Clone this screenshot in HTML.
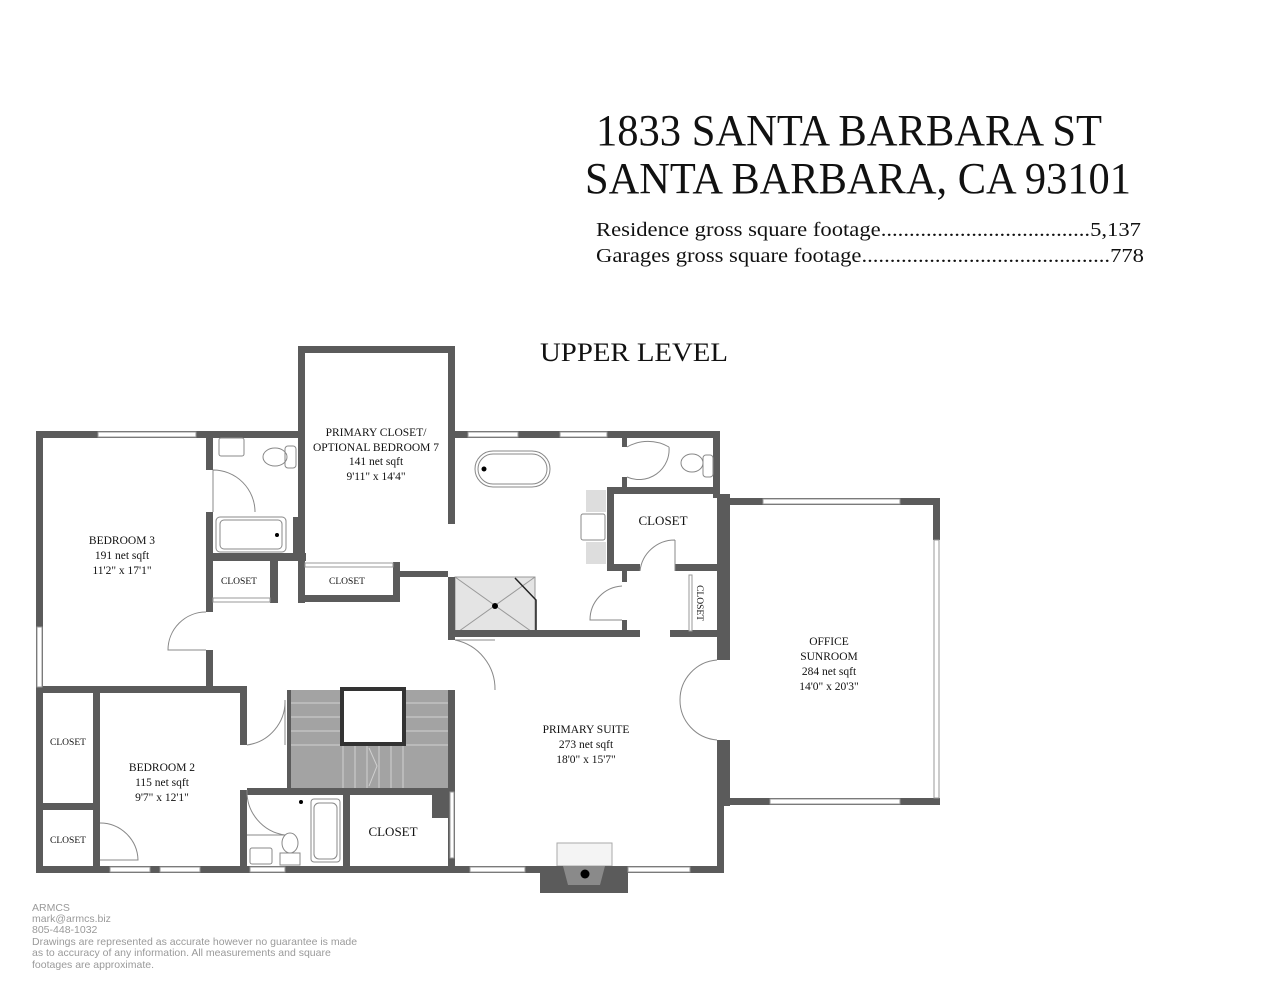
<!DOCTYPE html>
<html><head><meta charset="utf-8"><style>
html,body{margin:0;padding:0;background:#fff;}
svg{display:block;}
text{font-family:"Liberation Serif",serif;fill:#111;}
.w{fill:#5b5b5b;}
.win{fill:#fff;stroke:#999;stroke-width:1;}
.l{font-size:11.5px;text-anchor:middle;}
.s{font-size:9.5px;text-anchor:middle;}
.f{font-family:"Liberation Sans",sans-serif;fill:#9a9a9a;font-size:10.5px;}
.d{fill:none;stroke:#888;stroke-width:1;}
</style></head><body>
<svg width="1280" height="989" viewBox="0 0 1280 989" xmlns="http://www.w3.org/2000/svg">
<text x="596" y="145" font-size="44" textLength="506" lengthAdjust="spacingAndGlyphs">1833 SANTA BARBARA ST</text>
<text x="585" y="193" font-size="44" textLength="546" lengthAdjust="spacingAndGlyphs">SANTA BARBARA, CA 93101</text>
<text x="596" y="236" font-size="20.5" textLength="545" lengthAdjust="spacingAndGlyphs">Residence gross square footage.....................................5,137</text>
<text x="596" y="262" font-size="20.5" textLength="548" lengthAdjust="spacingAndGlyphs">Garages gross square footage............................................778</text>
<text x="540" y="361" font-size="26" textLength="188" lengthAdjust="spacingAndGlyphs">UPPER LEVEL</text>

<rect x="288" y="690" width="162" height="102" fill="#a3a3a3"/>
<g stroke="#d0d0d0" stroke-width="1">
<line x1="290" y1="703" x2="340" y2="703"/><line x1="290" y1="717" x2="340" y2="717"/><line x1="290" y1="731" x2="340" y2="731"/><line x1="290" y1="745" x2="448" y2="745"/>
<line x1="405" y1="703" x2="448" y2="703"/><line x1="405" y1="717" x2="448" y2="717"/><line x1="405" y1="731" x2="448" y2="731"/>
<line x1="343" y1="745" x2="343" y2="790"/><line x1="355" y1="745" x2="355" y2="790"/><line x1="367" y1="745" x2="367" y2="790"/><line x1="379" y1="745" x2="379" y2="790"/><line x1="391" y1="745" x2="391" y2="790"/><line x1="403" y1="745" x2="403" y2="790"/>
<polyline points="369,748 377,766 369,786" fill="none"/>
</g>
<rect x="342" y="689" width="62" height="55" fill="#fff" stroke="#333" stroke-width="4"/>

<rect x="455" y="577" width="80" height="57" fill="#e4e4e4" stroke="#999"/>
<line x1="455" y1="577" x2="535" y2="634" stroke="#999"/><line x1="535" y1="577" x2="455" y2="634" stroke="#999"/>
<circle cx="495" cy="606" r="3" fill="#000"/>
<polyline points="515,578 536,600 536,634" fill="none" stroke="#222" stroke-width="1.5"/>

<rect x="557" y="843" width="55" height="23" fill="#f4f4f4" stroke="#aaa"/>

<g class="w">
<rect x="36" y="431" width="264" height="7"/>
<rect x="36" y="431" width="7" height="442"/>
<rect x="206" y="438" width="7" height="32"/>
<rect x="206" y="512" width="7" height="100"/>
<rect x="206" y="650" width="7" height="40"/>
<rect x="36" y="686" width="210" height="7"/>
<rect x="206" y="553" width="100" height="8"/>
<rect x="270" y="561" width="8" height="42"/>
<rect x="293" y="517" width="12" height="40"/>
<rect x="298" y="346" width="7" height="257"/>
<rect x="298" y="595" width="102" height="7"/>
<rect x="393" y="562" width="7" height="40"/>
<rect x="400" y="571" width="48" height="6"/>
<rect x="298" y="346" width="157" height="7"/>
<rect x="448" y="346" width="7" height="178"/>
<rect x="448" y="577" width="7" height="63"/>
<rect x="448" y="690" width="7" height="176"/>
<rect x="455" y="431" width="265" height="7"/>
<rect x="713" y="431" width="7" height="67"/>
<rect x="607" y="487" width="113" height="7"/>
<rect x="607" y="487" width="7" height="84"/>
<rect x="607" y="564" width="33" height="7"/>
<rect x="675" y="564" width="45" height="7"/>
<rect x="622" y="438" width="5" height="9"/><rect x="622" y="477" width="5" height="10"/>
<rect x="622" y="571" width="5" height="11"/><rect x="622" y="620" width="5" height="12"/>
<rect x="448" y="630" width="192" height="7"/>
<rect x="670" y="630" width="50" height="7"/>
<rect x="717" y="494" width="13" height="166"/>
<rect x="717" y="740" width="13" height="66"/>
<rect x="717" y="800" width="7" height="73"/>
<rect x="722" y="498" width="218" height="7"/>
<rect x="933" y="498" width="7" height="42"/>
<rect x="722" y="798" width="218" height="7"/>
<rect x="36" y="866" width="688" height="7"/>
<rect x="540" y="866" width="88" height="27"/>
<rect x="93" y="690" width="7" height="176"/>
<rect x="43" y="803" width="50" height="7"/>
<rect x="240" y="686" width="7" height="59"/>
<rect x="240" y="790" width="7" height="76"/>
<rect x="247" y="788" width="203" height="7"/>
<rect x="287" y="690" width="4" height="100"/>
<rect x="343" y="792" width="7" height="74"/>
<rect x="432" y="792" width="23" height="26"/>
</g>
<polygon points="563,866 605,866 600,885 568,885" fill="#8a8a8a"/>
<circle cx="585" cy="874" r="4.5" fill="#000"/>

<rect class="win" x="98" y="432" width="98" height="5"/>
<rect class="win" x="37" y="627" width="5" height="60"/>
<rect class="win" x="468" y="432" width="50" height="5"/>
<rect class="win" x="560" y="432" width="47" height="5"/>
<rect class="win" x="763" y="499" width="137" height="5"/>
<rect class="win" x="934" y="540" width="5" height="258"/>
<rect class="win" x="770" y="799" width="130" height="5"/>
<rect class="win" x="110" y="867" width="40" height="5"/>
<rect class="win" x="160" y="867" width="40" height="5"/>
<rect class="win" x="250" y="867" width="35" height="5"/>
<rect class="win" x="470" y="867" width="55" height="5"/>
<rect class="win" x="628" y="867" width="62" height="5"/>
<rect class="win" x="213" y="598" width="57" height="4"/>
<rect class="win" x="305" y="563" width="88" height="4"/>
<rect class="win" x="450" y="792" width="4" height="66"/>
<rect class="win" x="689" y="575" width="3" height="56"/>

<path class="d" d="M213,470 A42,42 0 0 1 255,512 M213,470 L213,512"/>
<path class="d" d="M206,612 A38,38 0 0 0 168,650 L206,650"/>
<path class="d" d="M455,640 A50,50 0 0 1 495,690 M455,640 L495,640"/>
<path class="d" d="M627,447 A42,42 0 0 1 669,447 M627,477 A30,30 0 0 0 669,447"/>
<path class="d" d="M640,571 A35,35 0 0 1 675,540 M675,540 L675,571"/>
<path class="d" d="M622,586 A34,34 0 0 0 590,620 L622,620"/>
<path class="d" d="M717,660 A40,40 0 0 0 680,700 A40,40 0 0 0 717,740"/>
<path class="d" d="M247,745 A44,44 0 0 0 285,700 M285,700 L285,745"/>
<path class="d" d="M247,790 A44,44 0 0 0 285,835 M247,835 L285,835"/>
<path class="d" d="M100,823 A38,38 0 0 1 138,860 L100,860"/>

<g fill="none" stroke="#888">
<rect x="219" y="438" width="25" height="18" rx="2"/>
<ellipse cx="275" cy="457" rx="12" ry="9"/><rect x="285" y="446" width="11" height="22" rx="3"/>
<rect x="216" y="517" width="70" height="35" rx="4"/><rect x="220" y="520" width="62" height="29" rx="4"/>
<rect x="475" y="451" width="75" height="36" rx="18"/><rect x="478" y="454" width="69" height="30" rx="15"/>
<ellipse cx="692" cy="463" rx="11" ry="9"/><rect x="703" y="455" width="10" height="22" rx="3"/>
<rect x="581" y="514" width="24" height="26" rx="2"/>
<rect x="311" y="799" width="29" height="63" rx="3"/><rect x="314" y="803" width="23" height="56" rx="5"/>
<ellipse cx="290" cy="843" rx="8" ry="10"/><rect x="280" y="853" width="20" height="12"/>
<rect x="250" y="848" width="22" height="16" rx="2"/>
</g>
<rect x="586" y="490" width="20" height="22" fill="#ddd"/><rect x="586" y="542" width="20" height="22" fill="#ddd"/>
<circle cx="484" cy="469" r="2.5" fill="#000"/><circle cx="277" cy="535" r="2" fill="#000"/><circle cx="301" cy="802" r="2" fill="#000"/>

<text class="l" x="122" y="544">BEDROOM 3</text>
<text class="l" x="122" y="559">191 net sqft</text>
<text class="l" x="122" y="574">11'2" x 17'1"</text>
<text class="s" x="239" y="584">CLOSET</text>
<text class="s" x="347" y="584">CLOSET</text>
<text class="l" x="376" y="436">PRIMARY CLOSET/</text>
<text class="l" x="376" y="451">OPTIONAL BEDROOM 7</text>
<text class="l" x="376" y="465">141 net sqft</text>
<text class="l" x="376" y="480">9'11" x 14'4"</text>
<text x="663" y="525" font-size="13" text-anchor="middle">CLOSET</text>
<text class="s" x="0" y="0" transform="translate(697,603) rotate(90)">CLOSET</text>
<text class="l" x="829" y="645">OFFICE</text>
<text class="l" x="829" y="660">SUNROOM</text>
<text class="l" x="829" y="675">284 net sqft</text>
<text class="l" x="829" y="690">14'0" x 20'3"</text>
<text class="l" x="586" y="733">PRIMARY SUITE</text>
<text class="l" x="586" y="748">273 net sqft</text>
<text class="l" x="586" y="763">18'0" x 15'7"</text>
<text class="l" x="162" y="771">BEDROOM 2</text>
<text class="l" x="162" y="786">115 net sqft</text>
<text class="l" x="162" y="801">9'7" x 12'1"</text>
<text class="s" x="68" y="745">CLOSET</text>
<text class="s" x="68" y="843">CLOSET</text>
<text x="393" y="836" font-size="13" text-anchor="middle">CLOSET</text>

<text class="f" x="32" y="911">ARMCS</text>
<text class="f" x="32" y="922">mark@armcs.biz</text>
<text class="f" x="32" y="933">805-448-1032</text>
<text class="f" x="32" y="945">Drawings are represented as accurate however no guarantee is made</text>
<text class="f" x="32" y="956">as to accuracy of any information. All measurements and square</text>
<text class="f" x="32" y="968">footages are approximate.</text>
</svg>
</body></html>
